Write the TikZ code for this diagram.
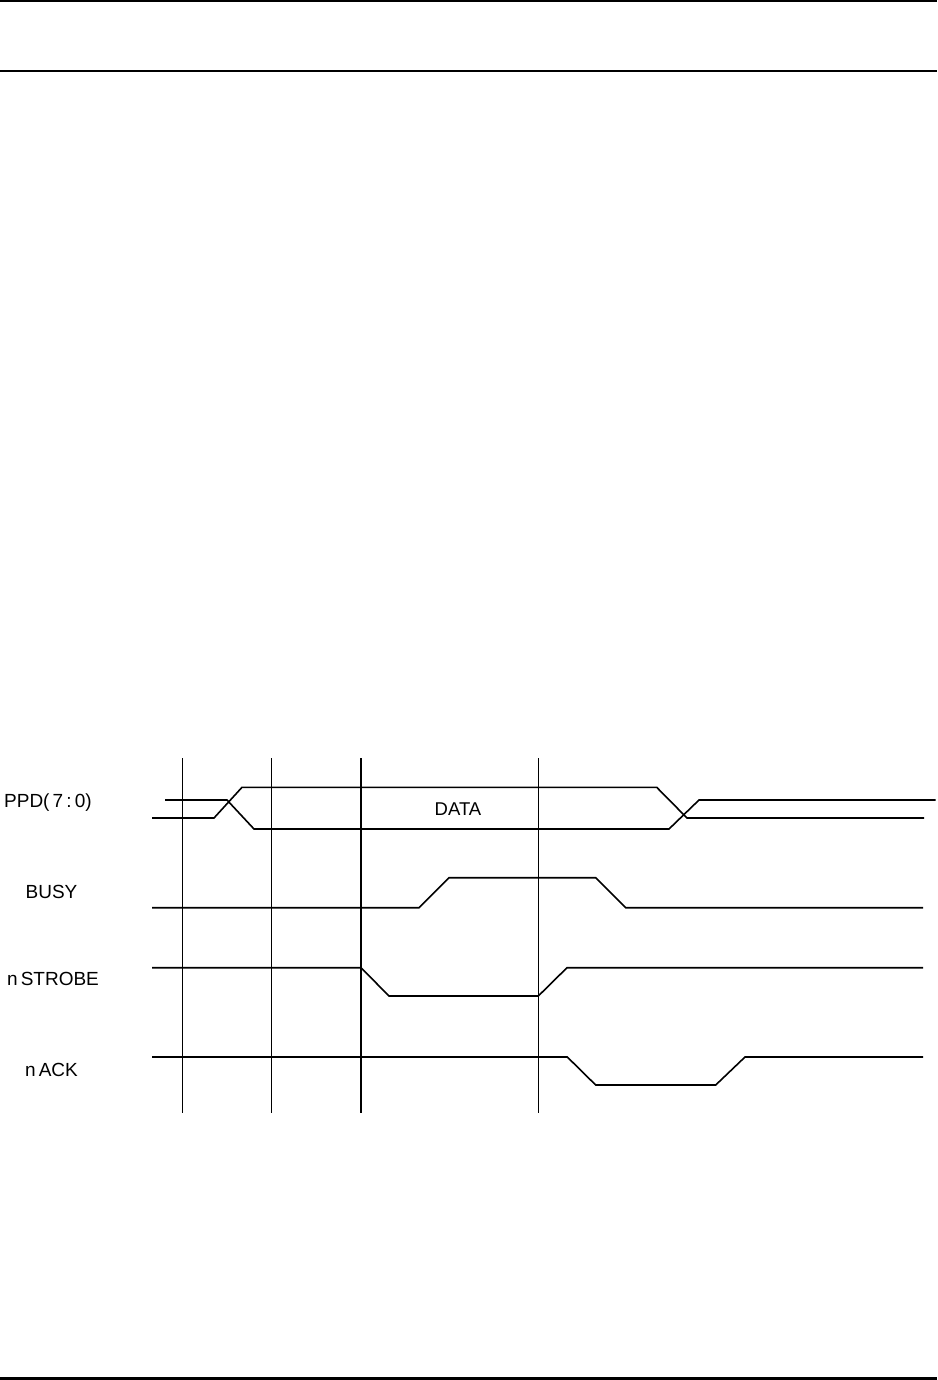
\documentclass[tikz,border=0pt]{standalone}
\usepackage{fontspec}
\setmainfont{Liberation Sans}
\begin{document}
\begin{tikzpicture}[x=1bp,y=-1bp,
  sig/.style={line width=1.6bp,line join=miter},
  grid/.style={line width=1.5bp},
  rule/.style={line width=2.2bp},
  lbl/.style={font=\fontsize{19bp}{21bp}\selectfont,inner sep=0pt},
  lblc/.style={font=\fontsize{18.5bp}{20bp}\selectfont,inner sep=0pt}]
\useasboundingbox (0,0) rectangle (937,1380);
% page rules
\draw[rule] (0,1.2) -- (937,1.2);
\draw[rule] (0,71) -- (937,71);
\draw[rule] (0,1378.5) -- (937,1378.5);
% vertical time markers
\foreach \x/\n in {182.3/t1,271.7/t2,361/t3,538.3/t4}{
  \coordinate (\n top) at (\x,758);
  \coordinate (\n bot) at (\x,1113);
  \draw[grid] (\n top) -- (\n bot);
}
% labels
\node[lbl] (ppd) at (48,803) {PPD(\,7\,:\,0)};
\node[lbl] (busy) at (51.5,892) {BUSY};
\node[lbl] (nstrobe) at (53,979) {n\,STROBE};
\node[lbl] (nack) at (51.5,1070) {n\,ACK};
\node[lblc] (data) at (458,809) {DATA};
% PPD bus
\draw[sig] (165,800) -- (227,800) -- (254,829) -- (669,829) -- (699,800) -- (935.7,800);
\draw[sig] (152,818) -- (214,818) -- (242,787.3) -- (656.7,787.3) -- (687,818) -- (924,818);
% BUSY
\draw[sig] (152,907.7) -- (419,907.7) -- (449,877.7) -- (595.7,877.7) -- (625.7,907.7) -- (923,907.7);
% nSTROBE
\draw[sig] (152,967.7) -- (361,967.7) -- (389,996) -- (538.3,996) -- (567,967.7) -- (923,967.7);
% nACK
\draw[sig] (152,1057) -- (567.3,1057) -- (595.7,1085) -- (715.7,1085) -- (745,1057) -- (923,1057);
\end{tikzpicture}
\end{document}
